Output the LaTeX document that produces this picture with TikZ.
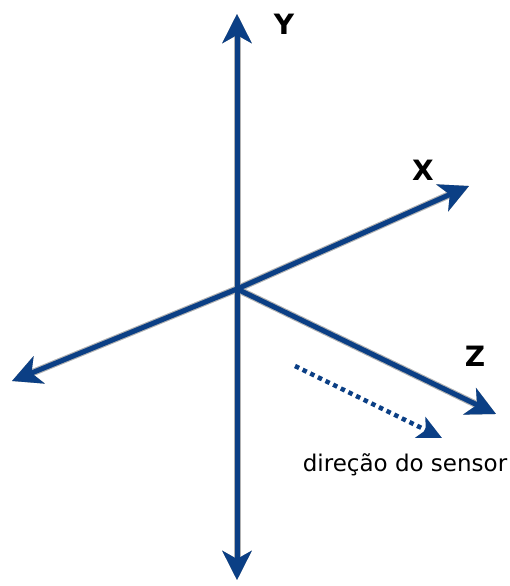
\documentclass[tikz,border=0pt]{standalone}
\usepackage{fontspec}
\setmainfont{DejaVu Sans}
\usetikzlibrary{arrows.meta}
\definecolor{axisblue}{HTML}{0B3F85}
\tikzset{
  axis/.style={line width=5pt, draw=axisblue, -{Stealth[length=29pt,width=29pt,inset=8pt]}},
  axisshadow/.style={line width=7pt, -{Stealth[length=29pt,width=29pt,inset=8pt]}},
  sensor/.style={line width=4.5pt, draw=axisblue, dash pattern=on 4.5pt off 4pt, -{Stealth[length=24pt,width=23pt,inset=6pt]}},
  axlabel/.style={font=\bfseries\fontsize{28}{30}\selectfont, text=black},
}
\newcommand{\shadowaxes}[1]{%
\draw[axisshadow,draw=#1] (O) -- (Ytop);
\draw[axisshadow,draw=#1] (O) -- (Ybot);
\draw[axisshadow,draw=#1] (O) -- (Xp);
\draw[axisshadow,draw=#1] (O) -- (Xn);
\draw[axisshadow,draw=#1] (O) -- (Zp);}
\begin{document}
\begin{tikzpicture}[x=1pt,y=1pt]
\useasboundingbox[fill=white] (0,0) rectangle (509,-586);
\coordinate (O) at (237,-289);
\coordinate (Ytop) at (237,-14);
\coordinate (Ybot) at (237,-580);
\coordinate (Xp) at (469,-186);
\coordinate (Xn) at (12,-381);
\coordinate (Zp) at (496,-414);
\coordinate (S1) at (295,-366);
\coordinate (S2) at (442,-438);
% soft shadows
\begin{scope}[shift={(9,-9)}]\shadowaxes{black!8}\end{scope}
\begin{scope}[shift={(7,-7)}]\shadowaxes{black!18}\end{scope}
\begin{scope}[shift={(5,-5)}]\shadowaxes{black!30}\end{scope}
% axes
\draw[axis] (O) -- (Ytop);
\draw[axis] (O) -- (Ybot);
\draw[axis] (O) -- (Xp);
\draw[axis] (O) -- (Xn);
\draw[axis] (O) -- (Zp);
\draw[sensor] (S1) -- (S2);
\node[axlabel] (ly) at (284,-24) {Y};
\node[axlabel] (lx) at (423,-170) {X};
\node[axlabel] (lz) at (475,-356) {Z};
\node[font=\fontsize{23}{26}\selectfont] (ls) at (405,-465) {direção do sensor};
\end{tikzpicture}
\end{document}
